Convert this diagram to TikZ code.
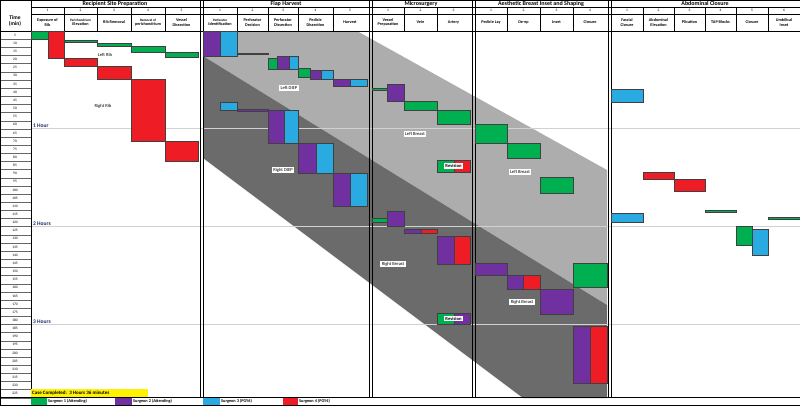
\documentclass[tikz,border=0pt]{standalone}
\usepackage{fontspec}
\setmainfont{Carlito}
\definecolor{sgreen}{HTML}{00B050}
\definecolor{spurple}{HTML}{7030A0}
\definecolor{sblue}{HTML}{29ABE2}
\definecolor{sred}{HTML}{EE1C25}
\definecolor{hblue}{HTML}{1F2A6E}
\newcommand\blk[5]{\fill[#1,draw=black!75,line width=0.3pt] (#2,#3) rectangle (#4,#5);}
\newcommand\ym[1]{31+#1*1.627}
\begin{document}
\begin{tikzpicture}[x=1pt,y=-1pt,
  hdr/.style={font=\bfseries\fontsize{6}{6}\selectfont,inner sep=0},
  sub/.style={font=\bfseries\fontsize{4.2}{4.6}\selectfont,align=center,inner sep=0},
  num/.style={font=\fontsize{3.6}{4}\selectfont,inner sep=0},
  lbl/.style={fill=white,font=\fontsize{4.6}{5}\selectfont,inner sep=1.5pt},
  plain/.style={font=\fontsize{4.6}{5}\selectfont,inner sep=0},
  hour/.style={font=\bfseries\fontsize{5.5}{6}\selectfont,text=hblue,inner sep=0,anchor=south west}]
\useasboundingbox (0,0) rectangle (800,405);
\fill[white] (0,0) rectangle (800,405);
% gray bands
\fill[black!32] (203,31) -- (357,31) -- (607,170) -- (607,305) -- (203,56) -- cycle;
\fill[black!58] (203,56) -- (607,305) -- (607,398) -- (523,398) -- (203,158) -- cycle;
% hour lines
\foreach \yy in {128.6,226,324} \draw[black!18,line width=0.6pt] (31,\yy) -- (800,\yy);
% time column
\foreach \i in {1,...,45}{
  \pgfmathsetmacro\yc{31+(\i-0.5)*8.15}
  \pgfmathtruncatemacro\tt{\i*5}
  \node[num] (t\i) at (15,\yc) {\tt};
  \draw[black!60,line width=0.3pt] (0,31+\i*8.15) -- (31,31+\i*8.15);
}
\node[hdr,align=center,font=\bfseries\fontsize{5.5}{6.5}\selectfont] (time) at (15,21) {Time\\(min)};
% header frame
\draw[line width=0.4pt] (0,0) rectangle (800,405);
\draw[line width=0.4pt] (0,31) -- (800,31);
\draw[line width=0.3pt] (31,7) -- (800,7);
\draw[line width=0.3pt] (31,14) -- (800,14);
\draw[line width=0.4pt] (31,0) -- (31,397);
\draw[line width=0.4pt] (0,397) -- (800,397);
\foreach \x in {200,203,369,372,472,475,608,611} \draw[line width=0.4pt] (\x,0) -- (\x,397);
% subcolumn header lines
\foreach \x in {64,97,131,165,237,268,298,333,404,437,507,540,573,643,674,705,736,768} \draw[line width=0.3pt] (\x,7) -- (\x,31);
% section titles
\node[hdr] (s1) at (115,3.6) {Recipient Site Preparation};
\node[hdr] (s2) at (286,3.6) {Flap Harvest};
\node[hdr] (s3) at (421,3.6) {Microsurgery};
\node[hdr] (s4) at (541,3.6) {Aesthetic Breast Inset and Shaping};
\node[hdr] (s5) at (705,3.6) {Abdominal Closure};
% numbers and subheaders
\foreach \a/\b/\n/\t [count=\k] in {31/64/1/{Exposure of\\Rib},64/97/2/{\fontsize{3.4}{3.8}\selectfont Perichondrium\\Elevation},97/131/3/{Rib Removal},131/165/4/{\fontsize{3.4}{3.8}\selectfont Removal of\\perichondrium},165/198/5/{Vessel\\Dissection},
203/237/1/{\fontsize{3.4}{3.8}\selectfont Perforator\\Identification},237/268/2/{Perforator\\Decision},268/298/3/{Perforator\\Dissection},298/333/4/{Pedicle\\Dissection},333/367/5/{Harvest},
372/404/1/{Vessel\\Preparation},404/437/2/{Vein},437/470/3/{Artery},
475/507/1/{Pedicle Lay},507/540/2/{De-ep},540/573/3/{Inset},573/607/4/{Closure},
611/643/1/{Fascial\\Closure},643/674/2/{Abdominal\\Elevation},674/705/3/{Plication},705/736/4/{TAP Blocks},736/768/5/{Closure},768/800/6/{Umbilical\\Inset}}{
  \node[num] (n\k) at ({(\a+\b)/2},10.5) {\n};
  \node[sub] (h\k) at ({(\a+\b)/2},22.5) {\t};
}
% Recipient blocks
\blk{sgreen}{31}{31}{48}{39}
\blk{sred}{48}{31}{64}{58}
\blk{sgreen}{64}{40}{97}{42}
\blk{sred}{64}{58}{97}{66}
\blk{sgreen}{97}{43}{131}{46}
\blk{sred}{97}{66}{131}{79}
\blk{sgreen}{131}{46}{165}{52}
\blk{sred}{131}{79}{165}{141}
\blk{sgreen}{165}{52}{198}{57}
\blk{sred}{165}{141}{198}{161}
\node[plain] (lr) at (105,55) {Left Rib};
\node[plain] (rr) at (103,106) {Right Rib};
% Flap harvest
\blk{spurple}{203}{31}{220}{56}
\blk{sblue}{220}{31}{237}{56}
\blk{spurple}{237}{53}{268}{54.5}
\blk{sgreen}{268}{58}{277}{69}
\blk{spurple}{277}{56}{289}{69}
\blk{sblue}{289}{56}{298}{69}
\blk{sgreen}{298}{68}{310}{77}
\blk{spurple}{310}{70}{321}{79}
\blk{sblue}{321}{70}{333}{79}
\blk{spurple}{333}{79}{350}{86}
\blk{sblue}{350}{79}{367}{86}
\node[lbl] (ld) at (289,88) {Left DIEP};
\blk{sblue}{220}{102}{237}{110}
\blk{spurple}{237}{109}{268}{111}
\blk{spurple}{268}{110}{284}{143}
\blk{sblue}{284}{110}{298}{143}
\blk{spurple}{298}{143}{316}{173}
\blk{sblue}{316}{143}{333}{173}
\blk{spurple}{333}{173}{350}{206}
\blk{sblue}{350}{173}{367}{206}
\node[lbl] (rd) at (283,170) {Right DIEP};
% Microsurgery
\blk{sgreen}{372}{88}{387}{90}
\blk{spurple}{387}{84}{404}{101}
\blk{sgreen}{404}{101}{437}{110}
\blk{sgreen}{437}{110}{470}{124}
\node[lbl] (lb) at (415,134) {Left Breast};
\blk{sgreen}{437}{160}{454}{172}
\blk{sred}{454}{160}{470}{172}
\node[lbl,inner sep=1pt] (rv1) at (453.5,166) {\bfseries Revision};
\blk{sgreen}{372}{218}{387}{222}
\blk{spurple}{387}{211}{404}{226}
\blk{spurple}{404}{229}{421}{233}
\blk{sred}{421}{229}{437}{233}
\blk{spurple}{437}{236}{454}{264}
\blk{sred}{454}{236}{470}{264}
\node[lbl] (rb) at (393,264) {Right Breast};
\blk{sgreen}{437}{313}{454}{324}
\blk{spurple}{454}{313}{470}{324}
\node[lbl,inner sep=1pt] (rv2) at (453.5,318.5) {\bfseries Revision};
% Aesthetic
\blk{sgreen}{475}{124}{507}{143}
\blk{sgreen}{507}{143}{540}{158}
\blk{sgreen}{540}{177}{573}{193}
\node[lbl] (lb2) at (520,172) {Left Breast};
\blk{spurple}{475}{263}{507}{275}
\blk{spurple}{507}{275}{523}{289}
\blk{sred}{523}{275}{540}{289}
\blk{spurple}{540}{289}{573}{314}
\blk{sgreen}{573}{263}{607}{287}
\node[lbl] (rb2) at (522,302) {Right Breast};
\blk{spurple}{573}{326}{590}{383}
\blk{sred}{590}{326}{607}{383}
% Abdominal
\blk{sblue}{611}{89}{643}{102}
\blk{sblue}{611}{213}{643}{222}
\blk{sred}{643}{172}{674}{179}
\blk{sred}{674}{179}{705}{191}
\blk{sgreen}{705}{210}{736}{212.5}
\blk{sgreen}{736}{226}{752}{245}
\blk{sblue}{752}{229}{768}{255}
\blk{sgreen}{768}{217}{800}{219}
% hour labels
\node[hour] (h1) at (33,128) {1 Hour};
\node[hour] (h2) at (33,225.5) {2 Hours};
\node[hour] (h3) at (33,323.5) {3 Hours};
% case completed
\fill[yellow] (31,389) rectangle (148,397);
\node[plain,anchor=west,font=\bfseries\fontsize{5}{5}\selectfont] (cc) at (32,393) {Case Completed:\ \ 3 Hours 36 minutes};
% legend
\fill[sgreen] (31,397.5) rectangle (47,404.5);
\node[plain,anchor=west,font=\bfseries\fontsize{4.3}{5}\selectfont] (l1) at (48,401) {Surgeon 1 (Attending)};
\fill[spurple] (115,397.5) rectangle (132,404.5);
\node[plain,anchor=west,font=\bfseries\fontsize{4.3}{5}\selectfont] (l2) at (133,401) {Surgeon 2 (Attending)};
\fill[sblue] (203,397.5) rectangle (220,404.5);
\node[plain,anchor=west,font=\bfseries\fontsize{4.3}{5}\selectfont] (l3) at (221,401) {Surgeon 3 (PGY6)};
\fill[sred] (283,397.5) rectangle (298,404.5);
\node[plain,anchor=west,font=\bfseries\fontsize{4.3}{5}\selectfont] (l4) at (299,401) {Surgeon 4 (PGY4)};
\end{tikzpicture}
\end{document}
